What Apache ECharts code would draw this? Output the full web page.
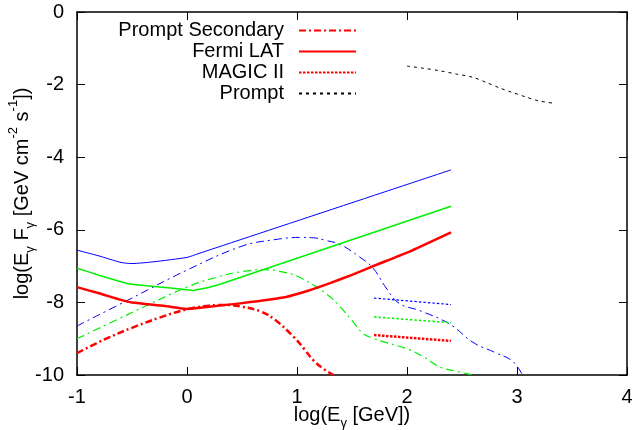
<!DOCTYPE html>
<html>
<head>
<meta charset="utf-8">
<script src="https://cdn.jsdelivr.net/npm/echarts@6/dist/echarts.min.js"></script>
<style>
html,body{margin:0;padding:0;background:#fff;}
#chart{width:636px;height:430px;}
</style>
</head>
<body>
<div id="chart"></div>
<script>
// ---- data (log E [GeV], log E F [GeV cm^-2 s^-1]) ----
const xTicks = [-1, 0, 1, 2, 3, 4];
const yTicks = [-10, -8, -6, -4, -2, 0];

const legendNames = ['Prompt Secondary', 'Fermi LAT', 'MAGIC II', 'Prompt'];

// Prompt (black dashed)
const promptX = [2.0, 2.15, 2.3, 2.45, 2.6, 2.72, 2.84, 2.96, 3.08, 3.2, 3.35];
const promptY = [-1.49, -1.55, -1.62, -1.71, -1.80, -1.94, -2.09, -2.22, -2.34, -2.45, -2.52];

// Fermi LAT sensitivity (red thick solid)
const fermiRedX = [-1, -0.8, -0.6, -0.5, -0.2, 0, 0.2, 0.5, 0.9, 1.1, 1.3, 1.5, 1.7, 2.0, 2.4];
const fermiRedY = [-7.58, -7.75, -7.93, -8.0, -8.1, -8.18, -8.12, -8.02, -7.85, -7.68, -7.47, -7.24, -6.99, -6.63, -6.07];
// green solid
const fermiGreenX = [-1, -0.8, -0.6, -0.5, -0.3, 0, 0.05, 0.15, 0.3, 2.4];
const fermiGreenY = [-7.06, -7.25, -7.43, -7.5, -7.56, -7.65, -7.67, -7.62, -7.5, -5.35];
// blue solid
const fermiBlueX = [-1, -0.8, -0.6, -0.5, -0.3, 0, 0.1, 2.4];
const fermiBlueY = [-6.56, -6.72, -6.90, -6.93, -6.88, -6.76, -6.66, -4.35];

// MAGIC II sensitivity (dotted)
const magicX = [1.7, 2.4];
const magicRedY = [-8.90, -9.06];
const magicGreenY = [-8.40, -8.56];
const magicBlueY = [-7.88, -8.06];

// Prompt secondary (dash-dot)
const secRedX = [-1, -0.75, -0.5, -0.25, 0, 0.2, 0.35, 0.5, 0.67, 0.8, 0.97, 1.07, 1.15, 1.25, 1.33];
const secRedY = [-9.4, -9.02, -8.7, -8.42, -8.19, -8.09, -8.07, -8.12, -8.25, -8.48, -8.95, -9.3, -9.6, -9.85, -10.0];
const secGreenX = [-1, -0.5, 0, 0.3, 0.5, 0.7, 0.9, 1.05, 1.27, 1.4, 1.5, 1.6, 1.7, 2.0, 2.15, 2.3, 2.45, 2.6];
const secGreenY = [-9.0, -8.28, -7.58, -7.28, -7.15, -7.1, -7.18, -7.35, -7.77, -8.15, -8.5, -8.85, -9.0, -9.28, -9.5, -9.78, -9.9, -10.0];
const secBlueX = [-1, -0.5, 0, 0.5, 0.8, 1.03, 1.15, 1.27, 1.39, 1.57, 1.69, 1.81, 1.93, 2.12, 2.39, 2.6, 2.8, 2.96, 3.05];
const secBlueY = [-8.65, -7.88, -7.11, -6.45, -6.27, -6.21, -6.22, -6.3, -6.4, -6.75, -7.05, -7.6, -8.03, -8.23, -8.6, -9.1, -9.38, -9.62, -10.0];

// ---- build ----
const FONT = "'Liberation Sans', Arial, Helvetica, sans-serif";
const FS = 20;
function pts(xs, ys) { return xs.map((x, i) => [x, ys[i]]); }
const RED = '#ff0000', GREEN = '#00f000', BLUE = '#0000ff';
const DASHDOT_THICK = [7, 3, 2, 3];
const DASHDOT_THIN = [8, 4, 2, 4];
const DOT_THICK = [2.5, 1.5];
const DOT_THIN = [2.5, 2];

function line(name, xs, ys, color, width, type, smooth, z) {
  return {
    name: name, type: 'line', data: pts(xs, ys), showSymbol: false, symbol: 'none',
    smooth: smooth, xAxisIndex: 0, yAxisIndex: 0, z: z || 2,
    lineStyle: { color: color, width: width, type: type },
    itemStyle: { color: color },
    emphasis: { disabled: true }, animation: false
  };
}

const series = [
  line('Prompt Secondary', secRedX, secRedY, RED, 2.5, DASHDOT_THICK, 0.4, 5),
  line('Fermi LAT', fermiRedX, fermiRedY, RED, 2.5, 'solid', 0.2, 5),
  line('MAGIC II', magicX, magicRedY, RED, 2.5, DOT_THICK, false, 5),
  line('Prompt', promptX, promptY, '#000', 1, [3, 4], 0.3, 5),
  line('secGreen', secGreenX, secGreenY, GREEN, 1.2, DASHDOT_THIN, 0.4),
  line('secBlue', secBlueX, secBlueY, BLUE, 1, DASHDOT_THIN, 0.4),
  line('fermiGreen', fermiGreenX, fermiGreenY, GREEN, 1.5, 'solid', 0.2),
  line('fermiBlue', fermiBlueX, fermiBlueY, BLUE, 1, 'solid', 0.2),
  line('magicGreen', magicX, magicGreenY, GREEN, 1.5, DOT_THIN, false),
  line('magicBlue', magicX, magicBlueY, BLUE, 1.2, DOT_THIN, false)
];

const axisCommon = {
  type: 'value',
  axisLine: { show: true, onZero: false, lineStyle: { color: '#000', width: 1.5 } },
  axisTick: { show: true, inside: true, length: 8, lineStyle: { color: '#000', width: 1 } },
  splitLine: { show: false }
};

const chart = echarts.init(document.getElementById('chart'), null, { renderer: 'canvas' });
chart.setOption({
  animation: false,
  backgroundColor: '#fff',
  textStyle: { fontFamily: FONT },
  grid: { left: 77, right: 9, top: 12, bottom: 55, containLabel: false, outerBoundsMode: 'none' },
  legend: {
    data: legendNames,
    orient: 'vertical',
    align: 'right',
    right: 279,
    top: 20,
    padding: 0,
    itemGap: 0,
    itemWidth: 57,
    itemHeight: 14,
    selectedMode: false,
    itemStyle: { opacity: 0 },
    textStyle: { fontFamily: FONT, fontSize: FS, color: '#000', lineHeight: 21, padding: [0, 10, 0, 0] }
  },
  xAxis: [
    Object.assign({}, axisCommon, {
      min: xTicks[0], max: xTicks[xTicks.length - 1], interval: 1, position: 'bottom',
      axisLabel: { color: '#000', fontSize: FS, fontFamily: FONT, margin: 12 },
      name: 'log(E{sub|γ} [GeV])',
      nameLocation: 'middle', nameGap: 25, nameMoveOverlap: false,
      nameTextStyle: {
        color: '#000', fontSize: FS, fontFamily: FONT, lineHeight: 30,
        rich: { sub: { fontSize: 13, fontFamily: FONT, color: '#000', verticalAlign: 'bottom', lineHeight: 14 } }
      }
    }),
    Object.assign({}, axisCommon, {
      min: xTicks[0], max: xTicks[xTicks.length - 1], interval: 1, position: 'top',
      axisLabel: { show: false }
    })
  ],
  yAxis: [
    Object.assign({}, axisCommon, {
      min: yTicks[0], max: yTicks[yTicks.length - 1], interval: 2, position: 'left',
      axisLabel: { color: '#000', fontSize: FS, fontFamily: FONT, margin: 13 },
      name: 'log(E{sub|γ} F{sub|γ} [GeV cm{sup|-2} s{sup|-1}])',
      nameLocation: 'middle', nameGap: 40, nameMoveOverlap: false,
      nameTextStyle: {
        color: '#000', fontSize: FS, fontFamily: FONT, lineHeight: 30,
        rich: {
          sub: { fontSize: 13, fontFamily: FONT, color: '#000', verticalAlign: 'bottom', lineHeight: 14 },
          sup: { fontSize: 13, fontFamily: FONT, color: '#000', verticalAlign: 'top', lineHeight: 14 }
        }
      }
    }),
    Object.assign({}, axisCommon, {
      min: yTicks[0], max: yTicks[yTicks.length - 1], interval: 2, position: 'right',
      axisLabel: { show: false }
    })
  ],
  series: series
});
</script>
</body>
</html>
